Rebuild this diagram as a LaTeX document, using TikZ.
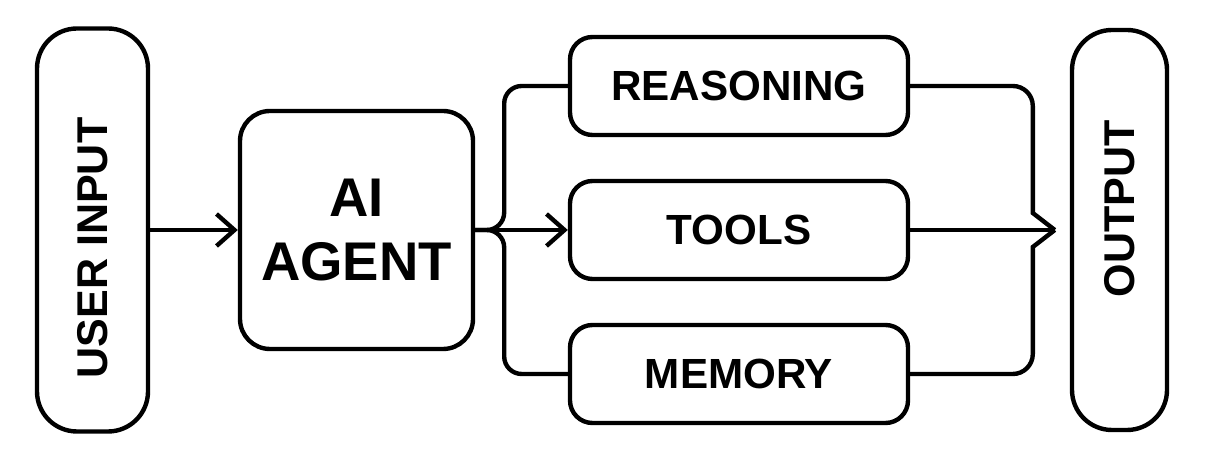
\documentclass[tikz,border=0pt]{standalone}
\usepackage{fontspec}
\setmainfont{Liberation Sans}
\usetikzlibrary{positioning}
\usetikzlibrary{arrows.meta}
\usetikzlibrary{calc}

\begin{document}
\begin{tikzpicture}
\tikzstyle{linea}=[line width=2.5pt]
\tikzstyle{flecha}=[linea,-{Straight Barb[length=0.36cm,width=0.64cm]}]
\tikzstyle{nodo caja}=[draw,linea,rounded corners=0.45cm,minimum width=6.76cm,minimum height=1.96cm,font=\fontsize{24}{28}\selectfont\bfseries]
\tikzstyle{nodo lateral}=[draw,linea,rounded corners=0.8cm,minimum height=8.06cm,font=\fontsize{24.5}{30}\selectfont\bfseries]

\useasboundingbox (0,0) rectangle (24.16,9.5);

\node[nodo lateral,minimum width=2.22cm] (usuario) at (1.85,4.9) {\rotatebox{90}{USER INPUT\hspace*{0.72cm}}};
\node[draw,linea,rounded corners=0.6cm,minimum width=4.66cm,minimum height=4.76cm,align=center,font=\fontsize{31}{36}\selectfont\bfseries] (agente) at (7.13,4.9) {AI\\AGENT};

\node[nodo caja] (razonamiento) at (14.78,7.78) {REASONING};
\node[nodo caja] (herramientas) at (14.78,4.9) {TOOLS};
\node[nodo caja] (memoria) at (14.78,2.02) {MEMORY};

\node[nodo lateral,minimum width=1.9cm,minimum height=8.0cm] (salida) at (22.39,4.9) {\rotatebox{90}{\hspace*{0.84cm}OUTPUT}};

\coordinate[right=0.58cm of agente.east] (reparto);
\coordinate[left=0.3cm of salida.west] (union);

\draw[flecha] (usuario) -- (agente);
\draw[flecha] (agente.east) -- (herramientas.west);
\draw[linea,rounded corners=0.35cm] (razonamiento.west) -| (reparto) -- (agente.east);
\draw[linea,rounded corners=0.35cm] (memoria.west) -| (reparto) -- (agente.east);

\draw[linea] (herramientas.east) -- (union);
\draw[linea] (union) -- ++(-0.44,0.34) [rounded corners=0.4cm] |- (razonamiento.east);
\draw[linea] (union) -- ++(-0.44,-0.34) [rounded corners=0.4cm] |- (memoria.east);
\end{tikzpicture}
\end{document}
